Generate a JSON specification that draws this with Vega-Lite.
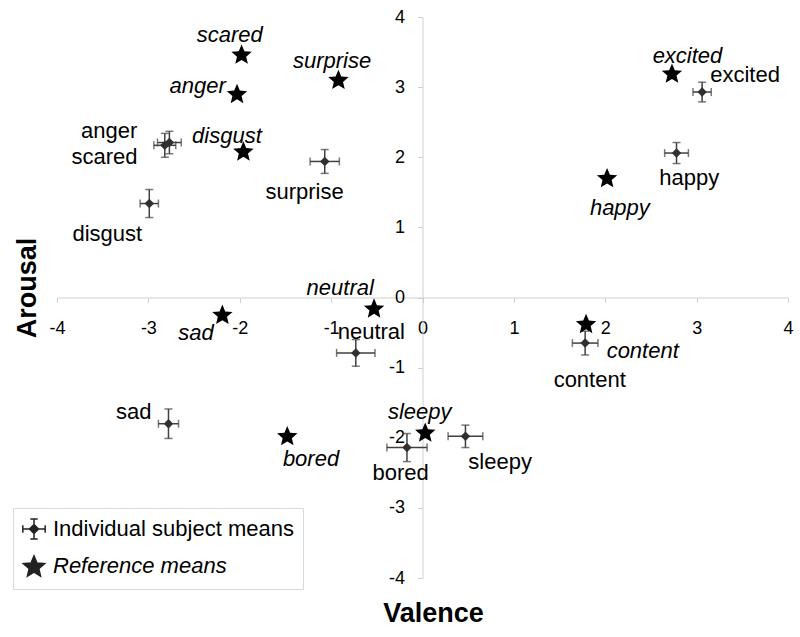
{
  "$schema": "https://vega.github.io/schema/vega-lite/v6.json",
  "width": 731,
  "height": 561,
  "autosize": "none",
  "padding": {"left": 57, "top": 17, "right": 12, "bottom": 59},
  "background": "white",
  "config": {"view": {"stroke": null}, "font": "Liberation Sans"},
  "datasets": {
    "individual": [
      {"emotion": "excited", "valence": 3.06, "arousal": 2.93, "valence_err": 0.10, "arousal_err": 0.14, "label_valence": 3.53, "label_arousal": 3.18},
      {"emotion": "happy", "valence": 2.78, "arousal": 2.06, "valence_err": 0.13, "arousal_err": 0.15, "label_valence": 2.92, "label_arousal": 1.71},
      {"emotion": "anger", "valence": -2.77, "arousal": 2.21, "valence_err": 0.13, "arousal_err": 0.16, "label_valence": -3.43, "label_arousal": 2.38},
      {"emotion": "scared", "valence": -2.82, "arousal": 2.17, "valence_err": 0.12, "arousal_err": 0.17, "label_valence": -3.48, "label_arousal": 2.0},
      {"emotion": "disgust", "valence": -2.99, "arousal": 1.34, "valence_err": 0.10, "arousal_err": 0.20, "label_valence": -3.45, "label_arousal": 0.91},
      {"emotion": "surprise", "valence": -1.07, "arousal": 1.94, "valence_err": 0.16, "arousal_err": 0.17, "label_valence": -1.29, "label_arousal": 1.5},
      {"emotion": "neutral", "valence": -0.73, "arousal": -0.79, "valence_err": 0.21, "arousal_err": 0.19, "label_valence": -0.56, "label_arousal": -0.49},
      {"emotion": "sad", "valence": -2.78, "arousal": -1.80, "valence_err": 0.11, "arousal_err": 0.21, "label_valence": -3.16, "label_arousal": -1.63},
      {"emotion": "bored", "valence": -0.17, "arousal": -2.14, "valence_err": 0.22, "arousal_err": 0.20, "label_valence": -0.24, "label_arousal": -2.5},
      {"emotion": "sleepy", "valence": 0.47, "arousal": -1.98, "valence_err": 0.19, "arousal_err": 0.16, "label_valence": 0.85, "label_arousal": -2.35},
      {"emotion": "content", "valence": 1.78, "arousal": -0.65, "valence_err": 0.14, "arousal_err": 0.17, "label_valence": 1.83, "label_arousal": -1.17}
    ],
    "reference": [
      {"emotion": "scared", "series": "Reference means", "valence": -1.98, "arousal": 3.47, "label_valence": -2.11, "label_arousal": 3.74},
      {"emotion": "surprise", "series": "Reference means", "valence": -0.92, "arousal": 3.11, "label_valence": -0.99, "label_arousal": 3.37},
      {"emotion": "anger", "series": "Reference means", "valence": -2.03, "arousal": 2.91, "label_valence": -2.46, "label_arousal": 3.01},
      {"emotion": "disgust", "series": "Reference means", "valence": -1.96, "arousal": 2.09, "label_valence": -2.14, "label_arousal": 2.31},
      {"emotion": "neutral", "series": "Reference means", "valence": -0.53, "arousal": -0.15, "label_valence": -0.9, "label_arousal": 0.14},
      {"emotion": "sad", "series": "Reference means", "valence": -2.19, "arousal": -0.24, "label_valence": -2.48, "label_arousal": -0.5},
      {"emotion": "bored", "series": "Reference means", "valence": -1.48, "arousal": -1.97, "label_valence": -1.22, "label_arousal": -2.3},
      {"emotion": "sleepy", "series": "Reference means", "valence": 0.03, "arousal": -1.92, "label_valence": -0.03, "label_arousal": -1.63},
      {"emotion": "content", "series": "Reference means", "valence": 1.79, "arousal": -0.37, "label_valence": 2.41, "label_arousal": -0.76},
      {"emotion": "happy", "series": "Reference means", "valence": 2.02, "arousal": 1.71, "label_valence": 2.16, "label_arousal": 1.28},
      {"emotion": "excited", "series": "Reference means", "valence": 2.73, "arousal": 3.20, "label_valence": 2.9, "label_arousal": 3.44}
    ]
  },
  "layer": [
    {
      "data": {"name": "individual"},
      "mark": {"type": "errorbar", "ticks": true, "size": 8, "thickness": 1.5, "color": "#404040"},
      "encoding": {
        "x": {"field": "valence", "type": "quantitative", "title": "Valence", "scale": {"domain": [-4, 4], "nice": false, "zero": false}},
        "xError": {"field": "valence_err"},
        "y": {"field": "arousal", "type": "quantitative", "title": "Arousal", "scale": {"domain": [-4, 4], "nice": false, "zero": false}}
      }
    },
    {
      "data": {"name": "individual"},
      "mark": {"type": "errorbar", "ticks": true, "size": 8, "thickness": 1.5, "color": "#404040"},
      "encoding": {
        "x": {"field": "valence", "type": "quantitative", "title": "Valence"},
        "y": {"field": "arousal", "type": "quantitative", "title": "Arousal"},
        "yError": {"field": "arousal_err"}
      }
    },
    {
      "data": {"name": "individual"},
      "mark": {"type": "point", "shape": "diamond", "filled": true, "size": 90, "color": "#303030", "opacity": 1},
      "encoding": {
        "x": {
          "field": "valence", "type": "quantitative", "title": "Valence",
          "axis": {
            "title": "Valence", "offset": -280.5, "values": [-4, -3, -2, -1, 0, 1, 2, 3, 4],
            "labelExpr": "'' + datum.value",
            "grid": false, "domainColor": "#d0d0d0", "tickColor": "#d0d0d0", "tickSize": 5,
            "labelFontSize": 18, "labelColor": "#000000", "labelPadding": 17,
            "labelFlush": false, "labelOverlap": false, "labelBound": false,
            "titleFontSize": 27, "titleFontWeight": "bold", "titleColor": "#000000",
            "titleX": 376, "titleY": 324, "titleAlign": "center", "titleBaseline": "alphabetic"
          }
        },
        "y": {
          "field": "arousal", "type": "quantitative", "title": "Arousal",
          "axis": {
            "title": "Arousal", "offset": -365.5, "values": [-4, -3, -2, -1, 0, 1, 2, 3, 4],
            "labelExpr": "'' + datum.value",
            "grid": false, "domainColor": "#d0d0d0", "tickColor": "#d0d0d0", "tickSize": 5,
            "labelFontSize": 18, "labelColor": "#000000", "labelPadding": 13,
            "labelFlush": false, "labelOverlap": false, "labelBound": false,
            "titleFontSize": 27, "titleFontWeight": "bold", "titleColor": "#000000",
            "titleX": -387.5, "titleY": 270.5, "titleAngle": -90, "titleAlign": "center", "titleBaseline": "alphabetic"
          }
        }
      }
    },
    {
      "data": {"name": "reference"},
      "mark": {"type": "point", "filled": true, "size": 460, "color": "#000000", "opacity": 1},
      "encoding": {
        "x": {"field": "valence", "type": "quantitative", "title": "Valence"},
        "y": {"field": "arousal", "type": "quantitative", "title": "Arousal"},
        "shape": {
          "field": "series", "type": "nominal",
          "scale": {
            "domain": ["Individual subject means", "Reference means"],
            "range": [
              "M-1,0L1,0M0,-0.9L0,0.9M-1,-0.33L-1,0.33M1,-0.33L1,0.33M-0.33,-0.9L0.33,-0.9M-0.33,0.9L0.33,0.9M0,-0.4L0.4,0L0,0.4L-0.4,0Z",
              "M0,-0.905L0.265,-0.269L0.951,-0.214L0.428,0.234L0.588,0.904L0,0.545L-0.588,0.904L-0.428,0.234L-0.951,-0.214L-0.265,-0.269Z"
            ]
          },
          "legend": {
            "title": null, "orient": "none", "legendX": -44, "legendY": 491,
            "padding": 9, "strokeColor": "#d9d9d9", "fillColor": "#ffffff",
            "labelFontSize": 22, "labelColor": "#000000", "labelLimit": 0,
            "symbolSize": 500, "rowPadding": 9, "labelOffset": 7,
            "symbolFillColor": "#222222", "symbolStrokeColor": "#222222", "symbolStrokeWidth": 1.5,
            "encoding": {
              "symbols": {"fill": {"value": "#222222"}, "stroke": {"value": "#222222"}, "strokeWidth": {"value": 1.5}, "size": {"value": 500}, "opacity": {"value": 1}},
              "labels": {"fontStyle": {"condition": {"test": "datum.label === 'Reference means'", "value": "italic"}, "value": "normal"}}
            }
          }
        }
      }
    },
    {
      "data": {"name": "individual"},
      "mark": {"type": "text", "fontSize": 22, "color": "#000000", "align": "center", "baseline": "middle"},
      "encoding": {
        "x": {"field": "label_valence", "type": "quantitative", "title": "Valence"},
        "y": {"field": "label_arousal", "type": "quantitative", "title": "Arousal"},
        "text": {"field": "emotion"}
      }
    },
    {
      "data": {"name": "reference"},
      "mark": {"type": "text", "fontSize": 22, "fontStyle": "italic", "color": "#000000", "align": "center", "baseline": "middle"},
      "encoding": {
        "x": {"field": "label_valence", "type": "quantitative", "title": "Valence"},
        "y": {"field": "label_arousal", "type": "quantitative", "title": "Arousal"},
        "text": {"field": "emotion"}
      }
    }
  ]
}
